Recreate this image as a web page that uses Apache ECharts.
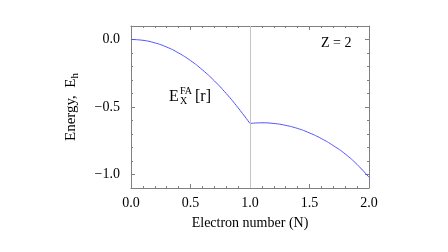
<!DOCTYPE html>
<html>
<head>
<meta charset="utf-8">
<script src="https://cdn.jsdelivr.net/npm/echarts@6/dist/echarts.min.js"></script>
<style>
html, body { margin: 0; padding: 0; background: #fff; }
#main { width: 448px; height: 252px; }
</style>
</head>
<body>
<div id="main"></div>
<script>
// electron number and exchange energy
var nLeft = [0.0, 0.1, 0.2, 0.3, 0.4, 0.5, 0.6, 0.7, 0.8, 0.9, 1.0];
var eLeft = [0.0, -0.006, -0.025, -0.056, -0.100, -0.156, -0.225, -0.306, -0.400, -0.506, -0.622];
var nRight = [1.0, 1.1, 1.2, 1.3, 1.4, 1.5, 1.6, 1.7, 1.8, 1.9, 2.0];
var eRight = [-0.622, -0.617, -0.622, -0.636, -0.659, -0.692, -0.734, -0.786, -0.848, -0.926, -1.020];
var yMajor = [-1.0, -0.5, 0.0];

var serif = '"Liberation Serif", "DejaVu Serif", serif';
var frame = '#808080';

function pairs(xs, ys) {
    var out = [];
    for (var i = 0; i < xs.length; i++) out.push([xs[i], ys[i]]);
    return out;
}

var myChart = echarts.init(document.getElementById('main'));

var xBase = {
    type: 'value', min: 0, max: 2, interval: 0.5,
    axisLine: { onZero: false, lineStyle: { color: frame, width: 1 } },
    axisTick: { inside: true, length: 4, lineStyle: { color: frame } },
    minorTick: { show: true, splitNumber: 5, length: 2, lineStyle: { color: frame } },
    splitLine: { show: false }
};
var yMinor = {
    type: 'value', min: -1.1, max: 0.1, interval: 0.1,
    axisLine: { onZero: false, lineStyle: { color: frame, width: 1 } },
    axisTick: { inside: true, length: 2, lineStyle: { color: frame } },
    splitLine: { show: false }
};
var yMaj = {
    type: 'value', min: -1.1, max: 0.1,
    axisLine: { show: false, onZero: false },
    axisTick: { inside: true, length: 4, customValues: yMajor, lineStyle: { color: frame } },
    axisLabel: { show: false },
    splitLine: { show: false }
};

var option = {
    animation: false,
    grid: { left: 131, right: 79, top: 26, bottom: 64 },
    xAxis: [
        Object.assign({}, xBase, {
            position: 'bottom',
            name: 'Electron number (N)',
            nameLocation: 'middle',
            nameGap: 28,
            nameTextStyle: { fontFamily: serif, fontSize: 14, color: '#000' },
            axisLabel: {
                margin: 8, fontFamily: serif, fontSize: 14, color: '#000',
                formatter: function (v) { return v.toFixed(1); }
            }
        }),
        Object.assign({}, xBase, { position: 'top', axisLabel: { show: false } })
    ],
    yAxis: [
        Object.assign({}, yMinor, {
            position: 'left',
            name: 'Energy,  E{sub|h}',
            nameLocation: 'middle',
            nameGap: 50,
            nameTextStyle: {
                fontFamily: serif, fontSize: 15, color: '#000',
                rich: { sub: { fontFamily: serif, fontSize: 11, color: '#000', padding: [9, 0, 0, 0] } }
            },
            axisLabel: {
                margin: 11, fontFamily: serif, fontSize: 14, color: '#000',
                customValues: yMajor,
                formatter: function (v) {
                    if (Math.abs(v * 2 - Math.round(v * 2)) > 1e-6) return '';
                    return v.toFixed(1).replace('-', '\u2212');
                }
            }
        }),
        Object.assign({}, yMinor, { position: 'right', axisLabel: { show: false } }),
        Object.assign({}, yMaj, { position: 'left' }),
        Object.assign({}, yMaj, { position: 'right' })
    ],
    graphic: [
        { type: 'text', x: 321, y: 43, style: { text: 'Z = 2', font: '14px ' + serif, fill: '#000', verticalAlign: 'middle' } },
        { type: 'text', x: 169, y: 97, style: { text: 'E', font: '16px ' + serif, fill: '#000', verticalAlign: 'middle' } },
        { type: 'text', x: 180, y: 91, style: { text: 'FA', font: '10px ' + serif, fill: '#000', verticalAlign: 'middle' } },
        { type: 'text', x: 180, y: 101.5, style: { text: 'X', font: '10px ' + serif, fill: '#000', verticalAlign: 'middle' } },
        { type: 'text', x: 195, y: 97, style: { text: '[r]', font: '16px ' + serif, fill: '#000', verticalAlign: 'middle' } }
    ],
    series: [
        {
            type: 'line', xAxisIndex: 0, yAxisIndex: 0,
            data: pairs(nLeft, eLeft),
            smooth: true, symbol: 'none',
            lineStyle: { color: '#4f4fff', width: 1 },
            markLine: {
                silent: true, symbol: 'none', label: { show: false },
                lineStyle: { color: '#c4c4c4', type: 'solid', width: 1 },
                data: [{ xAxis: 1 }]
            },
            z: 3
        },
        {
            type: 'line', xAxisIndex: 0, yAxisIndex: 0,
            data: pairs(nRight, eRight),
            smooth: true, symbol: 'none',
            lineStyle: { color: '#4f4fff', width: 1 },
            z: 3
        }
    ]
};

myChart.setOption(option);

window.onresize = function () {
    myChart.resize();
};
</script>
</body>
</html>
